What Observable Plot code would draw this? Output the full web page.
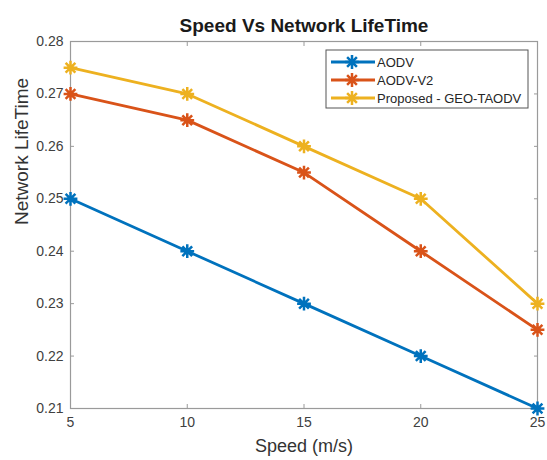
<!DOCTYPE html>
<html>
<head>
<meta charset="utf-8">
<script src="https://cdn.jsdelivr.net/npm/d3@7"></script>
<script src="https://cdn.jsdelivr.net/npm/@observablehq/plot@0.6"></script>
<style>
  html, body { margin: 0; padding: 0; background: #fff; }
  #chart { position: relative; width: 547px; height: 460px; }
  svg { font-family: "Liberation Sans", Arial, Helvetica, sans-serif; }
</style>
</head>
<body>
<div id="chart"></div>
<script>
const speeds = [5, 10, 15, 20, 25];
const aodv = [0.25, 0.24, 0.23, 0.22, 0.21];
const aodvV2 = [0.27, 0.265, 0.255, 0.24, 0.225];
const geoTaodv = [0.275, 0.27, 0.26, 0.25, 0.23];
const seriesNames = ["AODV", "AODV-V2", "Proposed - GEO-TAODV"];
const seriesColors = ["#0072BD", "#D95319", "#EDB120"];
const xTicks = [5, 10, 15, 20, 25];
const yTicks = [0.21, 0.22, 0.23, 0.24, 0.25, 0.26, 0.27, 0.28];

const seriesValues = [aodv, aodvV2, geoTaodv];
const data = [];
seriesNames.forEach((name, i) => {
  speeds.forEach((s, j) => data.push({series: name, speed: s, value: seriesValues[i][j]}));
});

// MATLAB-style 8-armed asterisk marker
const star8 = {
  draw(context, size) {
    const r = Math.sqrt(size / Math.PI) * 1.15;
    const d = r * Math.SQRT1_2;
    context.moveTo(-r, 0); context.lineTo(r, 0);
    context.moveTo(0, -r); context.lineTo(0, r);
    context.moveTo(-d, -d); context.lineTo(d, d);
    context.moveTo(-d, d); context.lineTo(d, -d);
  }
};

const axisColor = "#9a9a9a";
const textColor = "#404040";
const FONT = '"Liberation Sans", Arial, Helvetica, sans-serif';

const chart = Plot.plot({
  width: 547,
  height: 460,
  marginLeft: 70,
  marginRight: 10,
  marginTop: 41,
  marginBottom: 52,
  style: {fontFamily: FONT, fontSize: "14px", color: textColor, background: "#fff"},
  x: {domain: [5, 25], ticks: xTicks},
  y: {domain: [0.21, 0.28], ticks: yTicks},
  color: {domain: seriesNames, range: seriesColors},
  marks: [
    Plot.frame({stroke: axisColor, strokeWidth: 1.2}),
    Plot.axisX(xTicks, {anchor: "bottom", tickSize: 0, tickPadding: 9, fontSize: 14, fill: textColor, label: null}),
    Plot.axisX(xTicks, {anchor: "bottom", tickSize: -4, tickFormat: () => "", stroke: axisColor, label: null}),
    Plot.axisX(xTicks, {anchor: "top", tickSize: -4, tickFormat: () => "", stroke: axisColor, label: null}),
    Plot.axisY(yTicks, {anchor: "left", tickSize: 0, tickPadding: 7, tickFormat: d3.format(".2f"), fontSize: 14, fill: textColor, label: null}),
    Plot.axisY(yTicks, {anchor: "left", tickSize: -4, tickFormat: () => "", stroke: axisColor, label: null}),
    Plot.axisY(yTicks, {anchor: "right", tickSize: -4, tickFormat: () => "", stroke: axisColor, label: null}),
    Plot.line(data, {x: "speed", y: "value", z: "series", stroke: "series", strokeWidth: 2.8}),
    Plot.dot(data, {x: "speed", y: "value", stroke: "series", symbol: star8, r: 6, strokeWidth: 2.5}),
    Plot.text(["Speed Vs Network LifeTime"], {frameAnchor: "top", lineAnchor: "middle", dy: -16, fontSize: 19, fontWeight: "bold", fill: "#1a1a1a"}),
    Plot.text(["Speed (m/s)"], {frameAnchor: "bottom", lineAnchor: "middle", dy: 38, fontSize: 18, fill: "#333"}),
    Plot.text(["Network LifeTime"], {frameAnchor: "left", lineAnchor: "middle", dx: -49, rotate: -90, fontSize: 19, fill: "#333"})
  ]
});

// legend box inside the plot (upper right)
const svg = d3.select(chart);
const lg = svg.append("g").attr("transform", "translate(326,50)");
lg.append("rect").attr("width", 202).attr("height", 58).attr("fill", "#fff").attr("stroke", "#555").attr("stroke-width", 1);
seriesNames.forEach((name, i) => {
  const y = 12 + i * 18;
  lg.append("line").attr("x1", 5).attr("x2", 49).attr("y1", y).attr("y2", y)
    .attr("stroke", seriesColors[i]).attr("stroke-width", 2.8);
  lg.append("path").attr("d", d3.symbol(star8, Math.PI * 36)()).attr("transform", `translate(26,${y})`)
    .attr("fill", "none").attr("stroke", seriesColors[i]).attr("stroke-width", 2.5);
  lg.append("text").attr("x", 51).attr("y", y).attr("dy", "0.35em").attr("font-size", 13)
    .attr("text-anchor", "start").attr("font-family", FONT)
    .attr("fill", "#262626").text(name);
});

document.getElementById("chart").appendChild(chart);
</script>
</body>
</html>
